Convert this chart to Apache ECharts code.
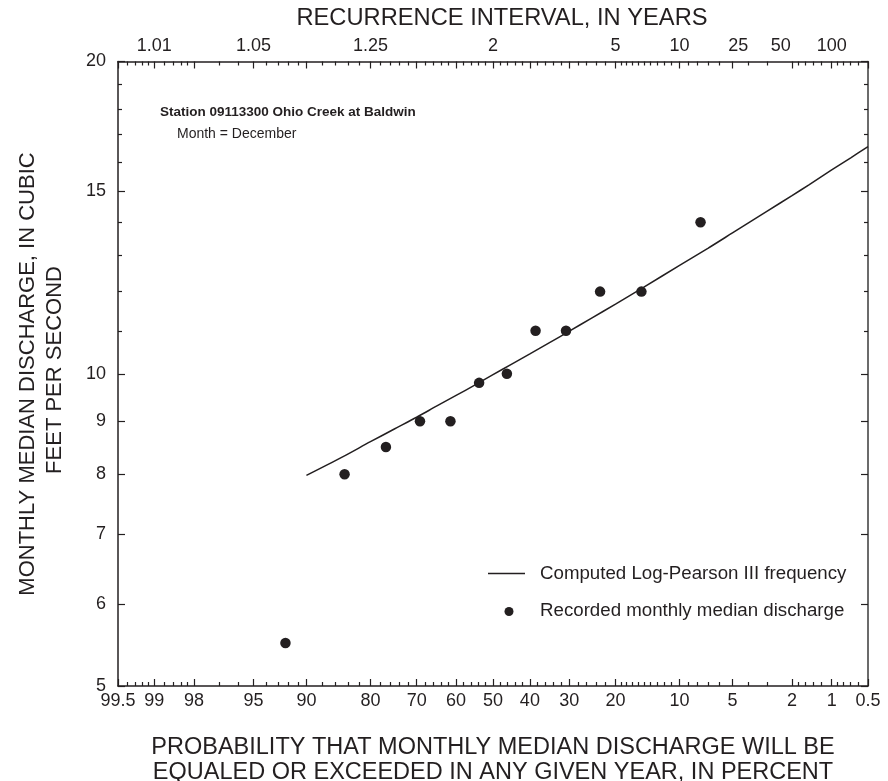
<!DOCTYPE html>
<html>
<head>
<meta charset="utf-8">
<script src="https://cdn.jsdelivr.net/npm/echarts@6/dist/echarts.min.js"></script>
<style>
  html, body { margin: 0; padding: 0; background: #ffffff; }
  #chart { width: 888px; height: 781px; }
</style>
</head>
<body>
<div id="chart"></div>
<script>
// Recorded monthly median discharge (ft3/s) and its exceedance probability (percent)
const recordedExceed = [7.7, 15.4, 23.1, 30.8, 38.5, 46.2, 53.8, 61.5, 69.2, 76.9, 84.6, 92.3];
const recordedFlow   = [14.0, 12.0, 12.0, 11.0, 11.0, 10.0, 9.8, 9.0, 9.0, 8.5, 8.0, 5.5];

// Computed Log-Pearson III frequency curve
const curveExceed = [90, 85, 80, 75, 70, 65, 60, 55, 50, 45, 40, 35, 30, 25, 20, 15, 10, 7, 5, 3, 2, 1.5, 1, 0.7, 0.5];
const curveFlow   = [7.98, 8.31, 8.60, 8.85, 9.08, 9.31, 9.53, 9.75, 9.98, 10.21, 10.45, 10.71, 10.99,
                     11.31, 11.67, 12.12, 12.72, 13.21, 13.67, 14.34, 14.85, 15.21, 15.72, 16.15, 16.56];

// Probability axis ticks (percent exceedance)
const probMajor = [99.5, 99, 98, 95, 90, 80, 70, 60, 50, 40, 30, 20, 10, 5, 2, 1, 0.5];
const probMajorLabels = ['99.5', '99', '98', '95', '90', '80', '70', '60', '50', '40', '30', '20', '10', '5', '2', '1', '0.5'];
const probMinor = [99.4, 99.3, 99.2, 99.1, 98.8, 98.6, 98.4, 98.2, 97, 96, 94, 93, 92, 91,
  88, 86, 84, 82, 78, 76, 74, 72, 68, 66, 64, 62, 58, 56, 54, 52, 48, 46, 44, 42,
  38, 36, 34, 32, 28, 26, 24, 22, 19, 18, 17, 16, 15, 14, 13, 12, 11, 9, 8, 7, 6, 4, 3,
  1.8, 1.6, 1.4, 1.2, 0.9, 0.8, 0.7, 0.6];

// Recurrence interval labels (years) and where they sit on the probability scale
const recurrenceLabels = ['1.01', '1.05', '1.25', '2', '5', '10', '25', '50', '100'];
const recurrenceExceed = [99, 95, 80, 50, 20, 10, 4.6, 2.4, 1];

// Discharge axis ticks
const flowMajor = [5, 6, 7, 8, 9, 10, 15, 20];
const flowMinor = [11, 12, 13, 14, 16, 17, 18, 19];

const INK = '#231f20';
const FONT = "'Liberation Sans', Arial, Helvetica, sans-serif";

// Inverse standard normal CDF (Acklam's rational approximation)
function normInv(p) {
  const a = [-3.969683028665376e+01, 2.209460984245205e+02, -2.759285104469687e+02, 1.383577518672690e+02, -3.066479806614716e+01, 2.506628277459239e+00];
  const b = [-5.447609879822406e+01, 1.615858368580409e+02, -1.556989798598866e+02, 6.680131188771972e+01, -1.328068155288572e+01];
  const c = [-7.784894002430293e-03, -3.223964580411365e-01, -2.400758277161838e+00, -2.549732539343734e+00, 4.374664141464968e+00, 2.938163982698783e+00];
  const d = [7.784695709041462e-03, 3.224671290700398e-01, 2.445134137142996e+00, 3.754408661907416e+00];
  const pl = 0.02425, ph = 1 - pl;
  let q, r;
  if (p < pl) {
    q = Math.sqrt(-2 * Math.log(p));
    return (((((c[0] * q + c[1]) * q + c[2]) * q + c[3]) * q + c[4]) * q + c[5]) /
           ((((d[0] * q + d[1]) * q + d[2]) * q + d[3]) * q + 1);
  }
  if (p <= ph) {
    q = p - 0.5; r = q * q;
    return (((((a[0] * r + a[1]) * r + a[2]) * r + a[3]) * r + a[4]) * r + a[5]) * q /
           (((((b[0] * r + b[1]) * r + b[2]) * r + b[3]) * r + b[4]) * r + 1);
  }
  q = Math.sqrt(-2 * Math.log(1 - p));
  return -(((((c[0] * q + c[1]) * q + c[2]) * q + c[3]) * q + c[4]) * q + c[5]) /
          ((((d[0] * q + d[1]) * q + d[2]) * q + d[3]) * q + 1);
}
// Normal-probability scale position for a percent exceedance
const zOf = pct => normInv(1 - pct / 100);

const zMin = zOf(99.5), zMax = zOf(0.5);
const lgMin = Math.log10(5), lgMax = Math.log10(20);

function nearestLabel(values, labels, v) {
  let best = 0, bd = Infinity;
  values.forEach((x, i) => { const dd = Math.abs(x - v); if (dd < bd) { bd = dd; best = i; } });
  return labels[best];
}

const probMajorZ = probMajor.map(zOf);
const probMinorZ = probMinor.map(zOf);
const recurrenceZ = recurrenceExceed.map(zOf);
const flowMajorLg = flowMajor.map(v => Math.log10(v));
const flowMinorLg = flowMinor.map(v => Math.log10(v));

const lineStyle = { color: INK, width: 1.5 };
const labelText = { color: INK, fontSize: 18, fontFamily: FONT };

function probAxis(position, tickValues, tickLen, showLine, labelOpts) {
  return {
    type: 'value', gridIndex: 0, position: position, min: zMin, max: zMax,
    axisLine: { show: showLine, onZero: false, lineStyle: lineStyle },
    axisTick: { show: true, inside: true, length: tickLen, customValues: tickValues, lineStyle: { color: INK, width: 1.2 } },
    axisLabel: labelOpts || { show: false },
    splitLine: { show: false }, minorTick: { show: false }, minorSplitLine: { show: false }
  };
}
function flowTickAxis(position, tickValues, tickLen, labelOpts) {
  return {
    type: 'value', gridIndex: 0, position: position, min: lgMin, max: lgMax,
    axisLine: { show: false, onZero: false },
    axisTick: { show: true, inside: true, length: tickLen, customValues: tickValues, lineStyle: { color: INK, width: 1.2 } },
    axisLabel: labelOpts || { show: false },
    splitLine: { show: false }, minorTick: { show: false }, minorSplitLine: { show: false }
  };
}

const option = {
  backgroundColor: '#ffffff',
  animation: false,
  grid: { left: 118, top: 61.5, width: 750, height: 624.5, containLabel: false },
  xAxis: [
    probAxis('bottom', probMajorZ, 7, true, Object.assign({
      customValues: probMajorZ, margin: 6,
      formatter: v => nearestLabel(probMajorZ, probMajorLabels, v)
    }, labelText)),
    probAxis('bottom', probMinorZ, 4, false),
    probAxis('top', probMajorZ, 7, true, Object.assign({
      customValues: recurrenceZ, margin: 6,
      formatter: v => nearestLabel(recurrenceZ, recurrenceLabels, v)
    }, labelText)),
    probAxis('top', probMinorZ, 4, false)
  ],
  yAxis: [
    {
      // discharge scale for the data (logarithmic)
      type: 'log', logBase: 10, gridIndex: 0, position: 'left', min: 5, max: 20,
      axisLine: { show: true, onZero: false, lineStyle: lineStyle },
      axisTick: { show: false }, axisLabel: { show: false },
      splitLine: { show: false }, minorTick: { show: false }
    },
    {
      type: 'log', logBase: 10, gridIndex: 0, position: 'right', min: 5, max: 20,
      axisLine: { show: true, onZero: false, lineStyle: { color: '#3a3a3a', width: 1.5 } },
      axisTick: { show: false }, axisLabel: { show: false },
      splitLine: { show: false }, minorTick: { show: false }
    },
    flowTickAxis('left', flowMajorLg, 7, Object.assign({
      customValues: flowMajorLg, margin: 12,
      formatter: v => nearestLabel(flowMajorLg, flowMajor.map(String), v)
    }, labelText)),
    flowTickAxis('left', flowMinorLg, 4),
    flowTickAxis('right', flowMajorLg, 7),
    flowTickAxis('right', flowMinorLg, 4)
  ],
  series: [
    {
      name: 'Computed Log-Pearson III frequency',
      type: 'line', xAxisIndex: 0, yAxisIndex: 0,
      data: curveExceed.map((p, i) => [zOf(p), curveFlow[i]]),
      smooth: 0.3, showSymbol: false, symbol: 'none',
      lineStyle: { color: INK, width: 1.5 }, z: 3
    },
    {
      name: 'Recorded monthly median discharge',
      type: 'scatter', xAxisIndex: 0, yAxisIndex: 0,
      data: recordedExceed.map((p, i) => [zOf(p), recordedFlow[i]]),
      symbol: 'circle', symbolSize: 10.5,
      itemStyle: { color: INK, opacity: 1 }, z: 4
    }
  ],
  graphic: [
    { type: 'text', x: 502, y: 18.5,
      style: { text: 'RECURRENCE INTERVAL, IN YEARS', fill: INK, font: '23.7px ' + FONT, align: 'center', verticalAlign: 'middle' } },
    { type: 'text', x: 493, y: 748,
      style: { text: 'PROBABILITY THAT MONTHLY MEDIAN DISCHARGE WILL BE', fill: INK, font: '23.5px ' + FONT, align: 'center', verticalAlign: 'middle' } },
    { type: 'text', x: 493, y: 773,
      style: { text: 'EQUALED OR EXCEEDED IN ANY GIVEN YEAR, IN PERCENT', fill: INK, font: '23.5px ' + FONT, align: 'center', verticalAlign: 'middle' } },
    { type: 'text', x: 28, y: 374, rotation: Math.PI / 2,
      style: { text: 'MONTHLY MEDIAN DISCHARGE, IN CUBIC', fill: INK, font: '22px ' + FONT, align: 'center', verticalAlign: 'middle' } },
    { type: 'text', x: 55, y: 370, rotation: Math.PI / 2,
      style: { text: 'FEET PER SECOND', fill: INK, font: '22px ' + FONT, align: 'center', verticalAlign: 'middle' } },
    { type: 'text', x: 160, y: 112.5,
      style: { text: 'Station 09113300 Ohio Creek at Baldwin', fill: INK, font: 'bold 13.5px ' + FONT, align: 'left', verticalAlign: 'middle' } },
    { type: 'text', x: 177, y: 134,
      style: { text: 'Month = December', fill: INK, font: '14px ' + FONT, align: 'left', verticalAlign: 'middle' } },
    // legend
    { type: 'line', shape: { x1: 488, y1: 573.5, x2: 525, y2: 573.5 }, style: { stroke: INK, lineWidth: 1.5 } },
    { type: 'text', x: 540, y: 574,
      style: { text: 'Computed Log-Pearson III frequency', fill: INK, font: '18.7px ' + FONT, align: 'left', verticalAlign: 'middle' } },
    { type: 'circle', shape: { cx: 509, cy: 611.5, r: 4.5 }, style: { fill: INK } },
    { type: 'text', x: 540, y: 610.5,
      style: { text: 'Recorded monthly median discharge', fill: INK, font: '18.7px ' + FONT, align: 'left', verticalAlign: 'middle' } }
  ]
};

const chart = echarts.init(document.getElementById('chart'), null, { renderer: 'canvas' });
chart.setOption(option);
</script>
</body>
</html>
